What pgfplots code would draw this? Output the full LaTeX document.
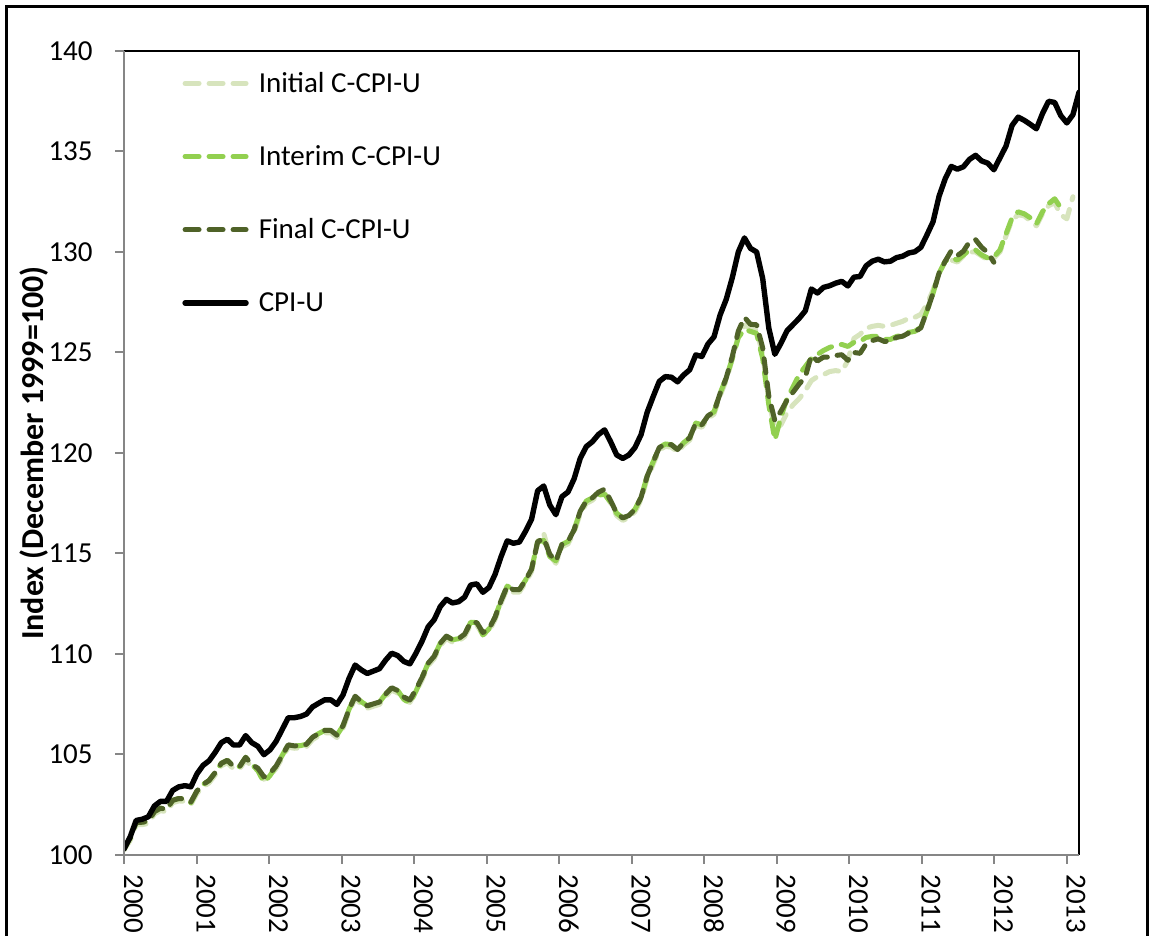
\documentclass[border=0pt]{standalone}
\usepackage{fontspec}
\setmainfont{Carlito}
\usepackage{pgfplots}
\usepackage{pgfplotstable}
\pgfplotsset{compat=1.18}
\definecolor{cInit}{RGB}{215,228,189}
\definecolor{cInter}{RGB}{146,208,80}
\definecolor{cFinal}{RGB}{79,98,40}
\definecolor{axgray}{RGB}{134,134,134}
% m = months since January 2000
\pgfplotstableread{
m cpi fin int ini
0 100.30 100.30 100.30 100.25
1 100.89 100.84 100.84 100.72
2 101.72 101.62 101.62 101.50
3 101.78 101.63 101.63 101.51
4 101.90 101.69 101.69 101.57
5 102.44 102.16 102.16 102.04
6 102.67 102.33 102.33 102.21
7 102.67 102.27 102.27 102.15
8 103.21 102.72 102.72 102.60
9 103.39 102.81 102.81 102.69
10 103.45 102.79 102.79 102.67
11 103.39 102.64 102.60 102.52
12 104.04 103.19 103.19 103.07
13 104.46 103.51 103.51 103.39
14 104.69 103.71 103.71 103.59
15 105.11 104.11 104.11 103.99
16 105.59 104.56 104.56 104.44
17 105.76 104.71 104.71 104.59
18 105.47 104.41 104.41 104.29
19 105.47 104.40 104.40 104.28
20 105.94 104.86 104.86 104.74
21 105.59 104.51 104.51 104.39
22 105.41 104.32 104.20 104.20
23 104.99 103.89 103.62 103.77
24 105.23 104.07 103.95 103.95
25 105.65 104.42 104.42 104.30
26 106.24 104.95 104.95 104.83
27 106.83 105.48 105.48 105.36
28 106.83 105.43 105.43 105.31
29 106.89 105.44 105.44 105.32
30 107.01 105.51 105.51 105.39
31 107.37 105.86 105.86 105.74
32 107.55 106.04 106.04 105.92
33 107.72 106.20 106.20 106.08
34 107.72 106.20 106.20 106.08
35 107.49 105.96 105.96 105.84
36 107.96 106.43 106.43 106.31
37 108.79 107.25 107.25 107.13
38 109.45 107.90 107.90 107.78
39 109.21 107.63 107.63 107.51
40 109.03 107.42 107.42 107.30
41 109.15 107.52 107.52 107.40
42 109.27 107.61 107.61 107.49
43 109.69 108.00 108.00 107.88
44 110.04 108.32 108.32 108.20
45 109.92 108.18 108.18 108.06
46 109.63 107.86 107.75 107.74
47 109.51 107.71 107.55 107.59
48 110.04 108.24 108.15 108.12
49 110.64 108.83 108.83 108.71
50 111.35 109.54 109.54 109.42
51 111.71 109.89 109.89 109.77
52 112.36 110.54 110.54 110.42
53 112.72 110.89 110.89 110.77
54 112.54 110.71 110.71 110.59
55 112.60 110.76 110.76 110.64
56 112.83 110.99 110.99 110.87
57 113.43 111.58 111.58 111.46
58 113.49 111.56 111.56 111.44
59 113.07 111.07 110.95 110.95
60 113.31 111.25 111.25 111.13
61 113.96 111.83 111.83 111.71
62 114.85 112.66 112.66 112.54
63 115.63 113.38 113.38 113.26
64 115.51 113.20 113.20 113.08
65 115.57 113.20 113.20 113.08
66 116.10 113.67 113.67 113.55
67 116.70 114.22 114.22 114.10
68 118.12 115.58 115.58 115.60
69 118.36 115.76 115.65 116.00
70 117.41 114.96 114.85 114.90
71 116.93 114.63 114.63 114.51
72 117.83 115.45 115.45 115.33
73 118.06 115.60 115.60 115.48
74 118.72 116.18 116.18 116.06
75 119.73 117.10 117.10 116.98
76 120.32 117.61 117.61 117.49
77 120.56 117.77 117.77 117.65
78 120.92 118.05 117.90 117.93
79 121.15 118.20 117.95 118.00
80 120.56 117.63 117.55 117.51
81 119.90 117.00 117.00 116.88
82 119.73 116.77 116.77 116.65
83 119.90 116.89 116.89 116.77
84 120.27 117.20 117.20 117.08
85 120.91 117.79 117.79 117.67
86 122.02 118.84 118.84 118.72
87 122.81 119.57 119.57 119.45
88 123.56 120.27 120.27 120.15
89 123.80 120.45 120.45 120.33
90 123.77 120.41 120.41 120.29
91 123.54 120.17 120.17 120.05
92 123.88 120.51 120.51 120.39
93 124.14 120.76 120.76 120.64
94 124.88 121.49 121.49 121.37
95 124.80 121.40 121.40 121.28
96 125.42 121.85 121.85 121.73
97 125.78 122.05 122.05 121.93
98 126.87 122.97 122.97 122.85
99 127.64 123.73 123.73 123.61
100 128.72 124.80 124.70 124.68
101 130.01 126.07 125.75 125.85
102 130.70 126.75 126.15 126.35
103 130.18 126.40 126.05 126.20
104 130.00 126.38 125.95 126.10
105 128.68 125.23 124.70 124.90
106 126.22 122.84 122.40 122.60
107 124.91 121.61 120.65 121.20
108 125.46 122.08 121.80 121.40
109 126.08 122.63 122.70 122.00
110 126.39 123.03 123.30 122.40
111 126.70 123.43 123.90 122.70
112 127.07 123.78 124.30 123.10
113 128.16 124.86 124.70 123.60
114 127.96 124.58 124.90 123.80
115 128.24 124.77 125.10 123.90
116 128.32 124.77 125.25 124.05
117 128.45 124.85 125.35 124.10
118 128.54 124.89 125.40 124.05
119 128.31 124.61 125.30 124.60
120 128.75 125.00 125.50 125.70
121 128.78 124.96 125.55 125.90
122 129.31 125.43 125.75 126.20
123 129.54 125.59 125.80 126.30
124 129.64 125.68 125.80 126.35
125 129.51 125.55 125.65 126.30
126 129.54 125.57 125.65 126.35
127 129.72 125.75 125.80 126.45
128 129.79 125.81 125.85 126.55
129 129.95 125.97 126.00 126.70
130 130.01 126.02 126.05 126.75
131 130.23 126.23 126.25 126.90
132 130.85 127.07 127.07 127.40
133 131.50 127.94 127.94 128.10
134 132.78 128.95 128.95 128.95
135 133.64 129.54 129.54 129.54
136 134.26 130.06 129.70 129.60
137 134.12 129.82 129.60 129.50
138 134.24 130.04 129.85 129.80
139 134.61 130.51 130.10 130.00
140 134.81 130.61 130.10 130.00
141 134.53 130.23 129.85 129.80
142 134.42 129.97 129.70 129.60
143 134.09 129.49 129.75 129.70
144 134.68 nan 130.10 130.00
145 135.27 nan 130.90 130.80
146 136.30 nan 131.70 131.60
147 136.71 nan 132.00 131.85
148 136.55 nan 131.90 131.80
149 136.35 nan 131.70 131.55
150 136.13 nan 131.40 131.30
151 136.89 nan 132.00 131.90
152 137.50 nan 132.40 132.30
153 137.44 nan 132.65 132.45
154 136.79 nan 132.20 131.85
155 136.42 nan nan 131.65
156 136.83 nan nan 132.75
157 137.95 nan nan nan
}\cpidata

\begin{document}
\begin{tikzpicture}
\useasboundingbox (0,0) rectangle (576pt,468pt);
\draw[black, line width=1.5pt] (3.35pt,-5pt) -- (3.35pt,464.65pt) -- (573.5pt,464.65pt) -- (573.5pt,-5pt);
\begin{axis}[
  at={(62pt,40.5pt)}, anchor=south west,
  scale only axis, width=477.5pt, height=402pt,
  xmin=0, xmax=157, ymin=100, ymax=140,
  clip mode=individual,
  unbounded coords=jump,
  axis line style={draw=none},
  xtick={0,11.92,23.84,35.76,47.68,59.60,71.52,83.44,95.36,107.28,119.20,131.12,143.04,154.96},
  xticklabels={2000,2001,2002,2003,2004,2005,2006,2007,2008,2009,2010,2011,2012,2013},
  ytick={100,105,...,140},
  xtick pos=left, ytick pos=left,
  tick align=outside,
  major tick length=4.5pt,
  tick style={axgray, line width=1pt},
  /pgf/number format/assume math mode=true,
  ticklabel style={font=\fontsize{14.5}{17}\selectfont},
  yticklabel style={anchor=east, inner sep=0pt},
  yticklabel shift=11pt,
  xticklabel style={rotate=-90, anchor=base west, inner sep=0pt},
  xticklabel shift=5pt,
  ylabel={Index (December 1999=100)},
  every axis y label/.style={at={(axis description cs:-0.0848,0.5)}, rotate=90, anchor=base, font=\bfseries\fontsize{16}{18}\selectfont},
  legend cell align=left,
  legend image code/.code={\draw[#1] (0pt,0pt) -- (30.5pt,0pt);},
  legend style={draw=none, fill=none, inner sep=0pt, at={(axis description cs:0.0607,0.9764)}, anchor=north west,
    font=\fontsize{14.5}{17}\selectfont, row sep=23.6pt,
    nodes={text height=11pt, text depth=2pt, inner sep=0pt},
    /tikz/every odd column/.append style={column sep=5pt}},
]
\addplot[cInit, line width=2.5pt, dash pattern=on 7pt off 5pt, line cap=round, line join=round] table[x=m, y=ini]{\cpidata};
\addlegendentry{Initial C-CPI-U}
\addplot[cInter, line width=2.5pt, dash pattern=on 7pt off 5pt, line cap=round, line join=round] table[x=m, y=int]{\cpidata};
\addlegendentry{Interim C-CPI-U}
\addplot[cFinal, line width=2.5pt, dash pattern=on 7pt off 5pt, line cap=round, line join=round] table[x=m, y=fin]{\cpidata};
\addlegendentry{Final C-CPI-U}
\addplot[black, line width=2.7pt, line cap=round, line join=round] table[x=m, y=cpi]{\cpidata};
\addlegendentry{CPI-U}
\draw[black, line width=0.9pt] (rel axis cs:0,1) -- (rel axis cs:1,1) -- (rel axis cs:1,0);
\draw[axgray, line width=1pt] (rel axis cs:0,1) -- (rel axis cs:0,0) -- (rel axis cs:1,0);
\end{axis}
\end{tikzpicture}
\end{document}
